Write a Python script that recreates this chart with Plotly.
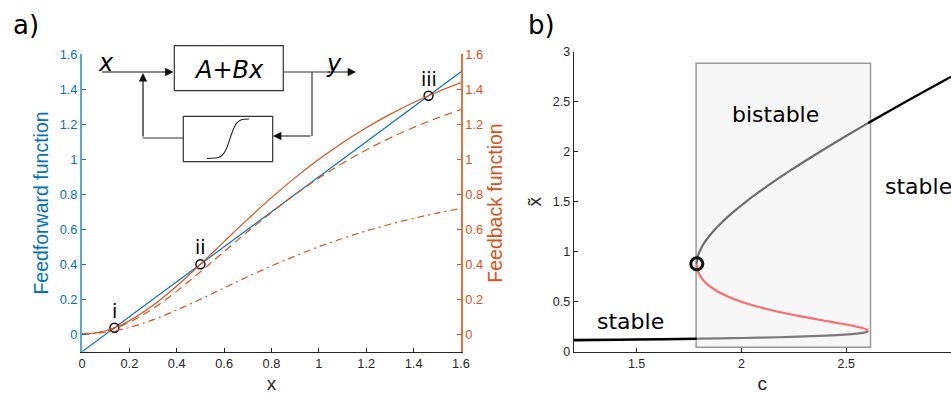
import plotly.graph_objects as go

W, H = 951, 394

def px(x):
    return x / W

def py(y):
    return 1 - y / H

# ---------------- data: panel a ----------------
ff_x = [0.0, 1.6]
ff_y = [-0.1, 1.5]

fb_x = [0.0, 0.1, 0.2, 0.3, 0.4, 0.5, 0.6, 0.7, 0.8, 0.9, 1.0,
        1.1, 1.2, 1.3, 1.4, 1.5, 1.6]
fb_solid = [0.0, 0.0198, 0.0769, 0.1651, 0.2759, 0.4, 0.5294, 0.6577, 0.7805,
            0.895, 1.0, 1.095, 1.1803, 1.2565, 1.3243, 1.3846, 1.4382]
fb_dashed = [0.0, 0.0177, 0.0687, 0.1474, 0.2462, 0.357, 0.4725, 0.587, 0.6966,
             0.7988, 0.8925, 0.9773, 1.0534, 1.1214, 1.182, 1.2358, 1.2836]
fb_dashdot = [0.0, 0.0099, 0.0385, 0.0826, 0.1379, 0.2, 0.2647, 0.3289, 0.3902,
              0.4475, 0.5, 0.5475, 0.5902, 0.6283, 0.6622, 0.6923, 0.7191]

fp_x = [0.137, 0.5, 1.463]
fp_y = [0.037, 0.4, 1.363]
fp_labels = ["i", "ii", "iii"]

a_xticks = [0, 0.2, 0.4, 0.6, 0.8, 1.0, 1.2, 1.4, 1.6]
a_xtext = ["0", "0.2", "0.4", "0.6", "0.8", "1", "1.2", "1.4", "1.6"]
a_yticks = [0, 0.2, 0.4, 0.6, 0.8, 1.0, 1.2, 1.4, 1.6]
a_ytext = ["0", "0.2", "0.4", "0.6", "0.8", "1", "1.2", "1.4", "1.6"]

# ---------------- data: panel b ----------------
low_mono_c = [1.1996, 1.4089, 1.625, 1.787]
low_mono_x = [0.1159, 0.12, 0.125, 0.1295]
low_bi_c = [1.787, 1.8051, 1.9554, 2.0809, 2.2723, 2.4037, 2.4922, 2.5492, 2.5831, 2.6, 2.604]
low_bi_x = [0.1295, 0.13, 0.135, 0.14, 0.15, 0.16, 0.17, 0.18, 0.19, 0.2, 0.2092]
unst_c = [2.604, 2.5994, 2.55, 2.4222, 2.2908, 2.175, 2.0784, 2.0, 1.9376, 1.8889,
          1.8518, 1.8245, 1.8055, 1.7937, 1.7881, 1.7872]
unst_x = [0.2092, 0.22, 0.25, 0.3, 0.35, 0.4, 0.45, 0.5, 0.55, 0.6,
          0.65, 0.7, 0.75, 0.8, 0.85, 0.8789]
up_bi_c = [1.7872, 1.7876, 1.7918, 1.8, 1.8265, 1.8639, 1.91, 1.9633, 2.0223, 2.0859,
           2.1536, 2.2247, 2.2986, 2.375, 2.4535, 2.5338, 2.604]
up_bi_x = [0.8789, 0.9, 0.95, 1.0, 1.1, 1.2, 1.3, 1.4, 1.5, 1.6,
           1.7, 1.8, 1.9, 2.0, 2.1, 2.2, 2.2855]
up_mono_c = [2.604, 2.6993, 2.784, 2.8698, 2.9567, 3.0004]
up_mono_x = [2.2855, 2.4, 2.5, 2.6, 2.7, 2.75]
bif_c = [1.7872]
bif_x = [0.8789]
bistable_c = [1.784, 2.616]
bistable_x = [0.044, 2.884]

b_xticks = [1.5, 2, 2.5, 3]
b_xtext = ["1.5", "2", "2.5", "3"]
b_yticks = [0, 0.5, 1, 1.5, 2, 2.5, 3]
b_ytext = ["0", "0.5", "1", "1.5", "2", "2.5", "3"]

BLUE = "#0072BD"
ORANGE = "#D95319"
DARK = "#262626"
TICKFONT = "Liberation Sans"
TEXTFONT = "DejaVu Sans"

fig = go.Figure()

# panel a traces
fig.add_trace(go.Scatter(x=fb_x, y=fb_dashdot, mode="lines", xaxis="x", yaxis="y2",
                         line=dict(color=ORANGE, width=1.2, dash="7px,4px,2px,4px", shape="spline"),
                         showlegend=False))
fig.add_trace(go.Scatter(x=fb_x, y=fb_dashed, mode="lines", xaxis="x", yaxis="y2",
                         line=dict(color=ORANGE, width=1.2, dash="8px,5px", shape="spline"),
                         showlegend=False))
fig.add_trace(go.Scatter(x=fb_x, y=fb_solid, mode="lines", xaxis="x", yaxis="y2",
                         line=dict(color=ORANGE, width=1.2, shape="spline"),
                         showlegend=False))
fig.add_trace(go.Scatter(x=ff_x, y=ff_y, mode="lines", xaxis="x", yaxis="y",
                         line=dict(color=BLUE, width=1.2), showlegend=False))
fig.add_trace(go.Scatter(x=fp_x, y=fp_y, mode="markers", xaxis="x", yaxis="y",
                         marker=dict(symbol="circle-open", size=9, color="black",
                                     line=dict(width=1.4, color="black")),
                         showlegend=False))

# panel b traces
fig.add_trace(go.Scatter(x=low_bi_c, y=low_bi_x, mode="lines", xaxis="x3", yaxis="y3",
                         line=dict(color="#7a7a7a", width=2.2, shape="spline"), showlegend=False))
fig.add_trace(go.Scatter(x=low_mono_c, y=low_mono_x, mode="lines", xaxis="x3", yaxis="y3",
                         line=dict(color="black", width=2.6, shape="spline"), showlegend=False))
fig.add_trace(go.Scatter(x=unst_c, y=unst_x, mode="lines", xaxis="x3", yaxis="y3",
                         line=dict(color="#ff6b6b", width=2.2, shape="spline"), showlegend=False))
fig.add_trace(go.Scatter(x=up_bi_c, y=up_bi_x, mode="lines", xaxis="x3", yaxis="y3",
                         line=dict(color="#6e6e6e", width=2.2, shape="spline"), showlegend=False))
fig.add_trace(go.Scatter(x=up_mono_c, y=up_mono_x, mode="lines", xaxis="x3", yaxis="y3",
                         line=dict(color="black", width=2.4, shape="spline"), showlegend=False))
fig.add_trace(go.Scatter(x=bif_c, y=bif_x, mode="markers", xaxis="x3", yaxis="y3",
                         marker=dict(symbol="circle-open", size=12, color="#111",
                                     line=dict(width=3, color="#111")),
                         showlegend=False))

shapes = []
# bistable region box
shapes.append(dict(type="rect", xref="x3", yref="y3",
                   x0=bistable_c[0], x1=bistable_c[1], y0=bistable_x[0], y1=bistable_x[1],
                   fillcolor="#f7f7f7", line=dict(color="#999999", width=1.5), layer="below"))

# block diagram (pixel geometry -> paper)
LC = "#333333"
def rect(x0, y0, x1, y1):
    shapes.append(dict(type="rect", xref="paper", yref="paper",
                       x0=px(x0), x1=px(x1), y0=py(y1), y1=py(y0),
                       line=dict(color=LC, width=1.2), fillcolor="rgba(0,0,0,0)"))

def seg(x0, y0, x1, y1):
    shapes.append(dict(type="line", xref="paper", yref="paper",
                       x0=px(x0), x1=px(x1), y0=py(y0), y1=py(y1),
                       line=dict(color=LC, width=1.2)))

rect(174.3, 45.7, 283.3, 90.7)
rect(183.3, 116.3, 272.7, 161.7)
seg(283.3, 72, 330, 72)
seg(312, 72, 312, 136)
seg(183.3, 138, 143, 138)

# sigmoid glyph inside feedback box
path = "M {:.5f},{:.5f} L {:.5f},{:.5f} C {:.5f},{:.5f} {:.5f},{:.5f} {:.5f},{:.5f} L {:.5f},{:.5f}".format(
    px(207), py(158.5), px(216), py(158),
    px(232), py(157.5), px(228), py(120), px(244), py(119.2),
    px(249), py(119))
shapes.append(dict(type="path", xref="paper", yref="paper", path=path,
                   line=dict(color="#222222", width=1.1)))

annotations = []

def arrow(hx, hy, ax, ay):
    annotations.append(dict(xref="paper", yref="paper", x=px(hx), y=py(hy), ax=ax, ay=ay,
                            text="", showarrow=True, arrowhead=2, arrowsize=1.4,
                            arrowwidth=1.2, arrowcolor="#111", standoff=0))

arrow(173.5, 72, -73, 0)      # input arrow
arrow(356, 72, -30, 0)        # output arrow
arrow(273, 136, 39, 0)        # feedback arrow into box
arrow(143, 73, 0, 65)         # feedback arrow up

def text(x, y, s, size, family=TEXTFONT, color="black", xanchor="center", italic=False):
    if italic:
        s = "<i>" + s + "</i>"
    annotations.append(dict(xref="paper", yref="paper", x=px(x), y=py(y), text=s,
                            showarrow=False, xanchor=xanchor, yanchor="middle",
                            font=dict(family=family, size=size, color=color)))

text(229, 70, "A+Bx", 24, italic=True)
text(106, 63, "x", 24, italic=True)
text(334, 64, "y", 24, italic=True)
text(11, 25, "a)", 26, xanchor="left")
text(526, 25, "b)", 26, xanchor="left")
text(775, 115, "bistable", 22)
text(882.5, 186, "stable", 22, xanchor="left")
text(630, 321, "stable", 22)

for xx, yy, lab in zip(fp_x, fp_y, fp_labels):
    annotations.append(dict(xref="x", yref="y", x=xx, y=yy, text=lab, showarrow=False,
                            yshift=17, xanchor="center", yanchor="middle",
                            font=dict(family=TEXTFONT, size=19, color="black")))

a_dom_x = [px(82), px(461)]
a_dom_y = [py(351.7), py(54.3)]
b_dom_x = [px(573.7), 1.0]
b_dom_y = [py(351.7), py(51.7)]

tick_a = dict(ticks="inside", ticklen=4, tickwidth=1, showgrid=False, zeroline=False,
              showline=True, automargin=False)

fig.update_layout(
    width=W, height=H,
    margin=dict(l=0, r=0, t=0, b=0),
    paper_bgcolor="white", plot_bgcolor="rgba(0,0,0,0)",
    showlegend=False,
    shapes=shapes,
    annotations=annotations,
    xaxis=dict(domain=a_dom_x, range=[0, 1.6], anchor="y",
               tickvals=a_xticks, ticktext=a_xtext, tickcolor=DARK, linecolor=DARK,
               linewidth=1, tickfont=dict(family=TICKFONT, size=12.8, color=DARK),
               title=dict(text="x", font=dict(family=TICKFONT, size=19, color=DARK), standoff=8),
               **tick_a),
    yaxis=dict(domain=a_dom_y, range=[-0.1, 1.6], anchor="x",
               tickvals=a_yticks, ticktext=a_ytext, tickcolor=BLUE, linecolor="#5AA6DC",
               linewidth=2, tickfont=dict(family=TICKFONT, size=12.8, color=BLUE),
               title=dict(text="Feedforward function", font=dict(family=TICKFONT, size=19.5, color=BLUE),
                          standoff=6),
               **tick_a),
    yaxis2=dict(domain=a_dom_y, range=[-0.1, 1.6], anchor="x", overlaying="y", side="right",
                tickvals=a_yticks, ticktext=a_ytext, tickcolor=ORANGE, linecolor="#E8703A",
                linewidth=1.5, tickfont=dict(family=TICKFONT, size=12.8, color=ORANGE),
                title=dict(text="Feedback function", font=dict(family=TICKFONT, size=19.5, color=ORANGE),
                           standoff=6),
                **tick_a),
    xaxis3=dict(domain=b_dom_x, range=[1.2, 3.0], anchor="y3",
                tickvals=b_xticks, ticktext=b_xtext, tickcolor=DARK, linecolor=DARK,
                linewidth=1, tickfont=dict(family=TICKFONT, size=12.5, color=DARK),
                title=dict(text="c", font=dict(family=TICKFONT, size=19, color=DARK), standoff=8),
                **tick_a),
    yaxis3=dict(domain=b_dom_y, range=[0, 3], anchor="x3",
                tickvals=b_yticks, ticktext=b_ytext, tickcolor=DARK, linecolor=DARK,
                linewidth=1, tickfont=dict(family=TICKFONT, size=12.5, color=DARK),
                title=dict(text="x\u0303", font=dict(family=TICKFONT, size=19, color=DARK), standoff=6),
                **tick_a),
)

fig.write_html("out.html",
               config={"displayModeBar": False},
               post_script="document.body.style.margin='0';document.body.style.padding='0';"
                           "document.body.style.overflow='hidden';")
